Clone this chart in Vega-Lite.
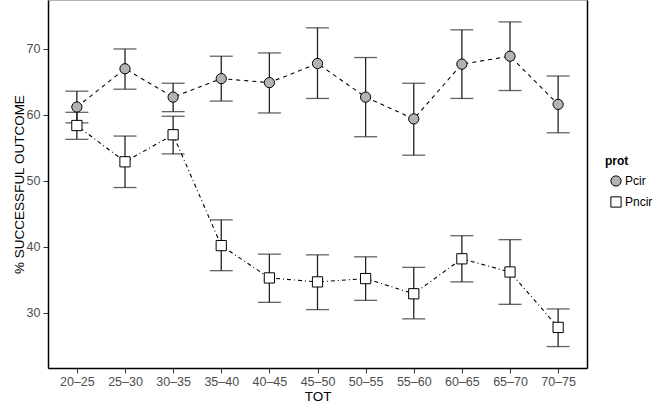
{
  "$schema": "https://vega.github.io/schema/vega-lite/v6.json",
  "width": 539,
  "height": 368,
  "autosize": "none",
  "padding": {"left": 48, "top": 0, "right": 69, "bottom": 37},
  "config": {
    "font": "Liberation Sans",
    "view": {"stroke": "#b3b3b3", "strokeWidth": 1},
    "axis": {
      "grid": false,
      "labelColor": "#4d4d4d",
      "labelFontSize": 12.5,
      "titleFontSize": 13.5,
      "titleFontWeight": "normal",
      "titleColor": "#000000",
      "tickColor": "#333333",
      "tickSize": 5,
      "domainColor": "#000000",
      "domainWidth": 1.5
    },
    "legend": {
      "titleFontSize": 12,
      "titleFontWeight": "bold",
      "titleColor": "#000000",
      "labelFontSize": 12,
      "labelColor": "#000000"
    }
  },
  "data": {
    "values": [
      {"TOT": "20–25", "prot": "Pcir", "mean": 61.2, "lo": 58.8, "hi": 63.6},
      {"TOT": "25–30", "prot": "Pcir", "mean": 67.0, "lo": 63.9, "hi": 70.0},
      {"TOT": "30–35", "prot": "Pcir", "mean": 62.7, "lo": 60.5, "hi": 64.8},
      {"TOT": "35–40", "prot": "Pcir", "mean": 65.5, "lo": 62.1, "hi": 68.9},
      {"TOT": "40–45", "prot": "Pcir", "mean": 64.9, "lo": 60.3, "hi": 69.4},
      {"TOT": "45–50", "prot": "Pcir", "mean": 67.8, "lo": 62.5, "hi": 73.2},
      {"TOT": "50–55", "prot": "Pcir", "mean": 62.7, "lo": 56.7, "hi": 68.7},
      {"TOT": "55–60", "prot": "Pcir", "mean": 59.4, "lo": 53.9, "hi": 64.8},
      {"TOT": "60–65", "prot": "Pcir", "mean": 67.7, "lo": 62.5, "hi": 72.9},
      {"TOT": "65–70", "prot": "Pcir", "mean": 68.9, "lo": 63.7, "hi": 74.1},
      {"TOT": "70–75", "prot": "Pcir", "mean": 61.6, "lo": 57.3, "hi": 65.9},
      {"TOT": "20–25", "prot": "Pncir", "mean": 58.4, "lo": 56.3, "hi": 60.4},
      {"TOT": "25–30", "prot": "Pncir", "mean": 52.9, "lo": 49.0, "hi": 56.8},
      {"TOT": "30–35", "prot": "Pncir", "mean": 57.0, "lo": 54.1, "hi": 59.8},
      {"TOT": "35–40", "prot": "Pncir", "mean": 40.2, "lo": 36.4, "hi": 44.1},
      {"TOT": "40–45", "prot": "Pncir", "mean": 35.3, "lo": 31.6, "hi": 38.9},
      {"TOT": "45–50", "prot": "Pncir", "mean": 34.7, "lo": 30.5, "hi": 38.8},
      {"TOT": "50–55", "prot": "Pncir", "mean": 35.2, "lo": 31.9, "hi": 38.5},
      {"TOT": "55–60", "prot": "Pncir", "mean": 32.9, "lo": 29.1, "hi": 36.9},
      {"TOT": "60–65", "prot": "Pncir", "mean": 38.2, "lo": 34.7, "hi": 41.7},
      {"TOT": "65–70", "prot": "Pncir", "mean": 36.2, "lo": 31.3, "hi": 41.1},
      {"TOT": "70–75", "prot": "Pncir", "mean": 27.8, "lo": 24.9, "hi": 30.6}
    ]
  },
  "encoding": {
    "x": {
      "field": "TOT",
      "type": "ordinal",
      "scale": {"type": "point", "padding": 0.6},
      "axis": {"title": "TOT", "labelAngle": 0, "labelPadding": 2, "titlePadding": 2}
    }
  },
  "resolve": {"axis": {"y": "independent"}},
  "layer": [
    {
      "mark": {"type": "rule", "color": "#222222", "strokeWidth": 1.3},
      "encoding": {
        "y": {
          "field": "lo",
          "type": "quantitative",
          "scale": {"domain": [21.65, 77.42], "nice": false, "zero": false},
          "axis": {"orient": "right", "title": null, "labels": false, "ticks": false, "domainColor": "#000000", "domainWidth": 1.5}
        },
        "y2": {"field": "hi"}
      }
    },
    {
      "layer": [
        {
          "mark": {"type": "tick", "color": "#222222", "size": 23, "thickness": 1.3},
          "encoding": {
            "y": {
              "field": "lo",
              "type": "quantitative",
              "axis": {"title": "% SUCCESSFUL OUTCOME", "values": [30, 40, 50, 60, 70], "labelPadding": 3, "titlePadding": 0}
            }
          }
        },
        {
          "mark": {"type": "tick", "color": "#222222", "size": 23, "thickness": 1.3},
          "encoding": {"y": {"field": "hi", "type": "quantitative"}}
        },
        {
          "transform": [{"filter": "datum.prot === 'Pcir'"}],
          "mark": {"type": "line", "color": "#000000", "strokeWidth": 1.1, "strokeDash": [4, 4]},
          "encoding": {"y": {"field": "mean", "type": "quantitative"}}
        },
        {
          "transform": [{"filter": "datum.prot === 'Pncir'"}],
          "mark": {"type": "line", "color": "#000000", "strokeWidth": 1.1, "strokeDash": [1, 3, 4, 3]},
          "encoding": {"y": {"field": "mean", "type": "quantitative"}}
        },
        {
          "mark": {"type": "point", "filled": true, "strokeWidth": 1, "opacity": 1, "size": 105},
          "encoding": {
            "y": {"field": "mean", "type": "quantitative"},
            "shape": {
              "field": "prot",
              "type": "nominal",
              "scale": {"domain": ["Pcir", "Pncir"], "range": ["circle", "square"]},
              "legend": {"title": "prot", "orient": "none", "legendX": 557, "legendY": 156, "titlePadding": 7, "rowPadding": 5, "symbolOffset": 5, "labelOffset": 3, "symbolStrokeWidth": 1, "symbolSize": 105}
            },
            "fill": {
              "field": "prot",
              "type": "nominal",
              "scale": {"domain": ["Pcir", "Pncir"], "range": ["#b3b3b3", "#ffffff"]},
              "legend": {"title": "prot", "orient": "none", "legendX": 557, "legendY": 156, "titlePadding": 7, "rowPadding": 5, "symbolOffset": 5, "labelOffset": 3, "symbolStrokeWidth": 1, "symbolSize": 105}
            },
            "stroke": {
              "field": "prot",
              "type": "nominal",
              "scale": {"domain": ["Pcir", "Pncir"], "range": ["#000000", "#000000"]},
              "legend": {"title": "prot", "orient": "none", "legendX": 557, "legendY": 156, "titlePadding": 7, "rowPadding": 5, "symbolOffset": 5, "labelOffset": 3, "symbolStrokeWidth": 1, "symbolSize": 105}
            }
          }
        }
      ]
    }
  ]
}
